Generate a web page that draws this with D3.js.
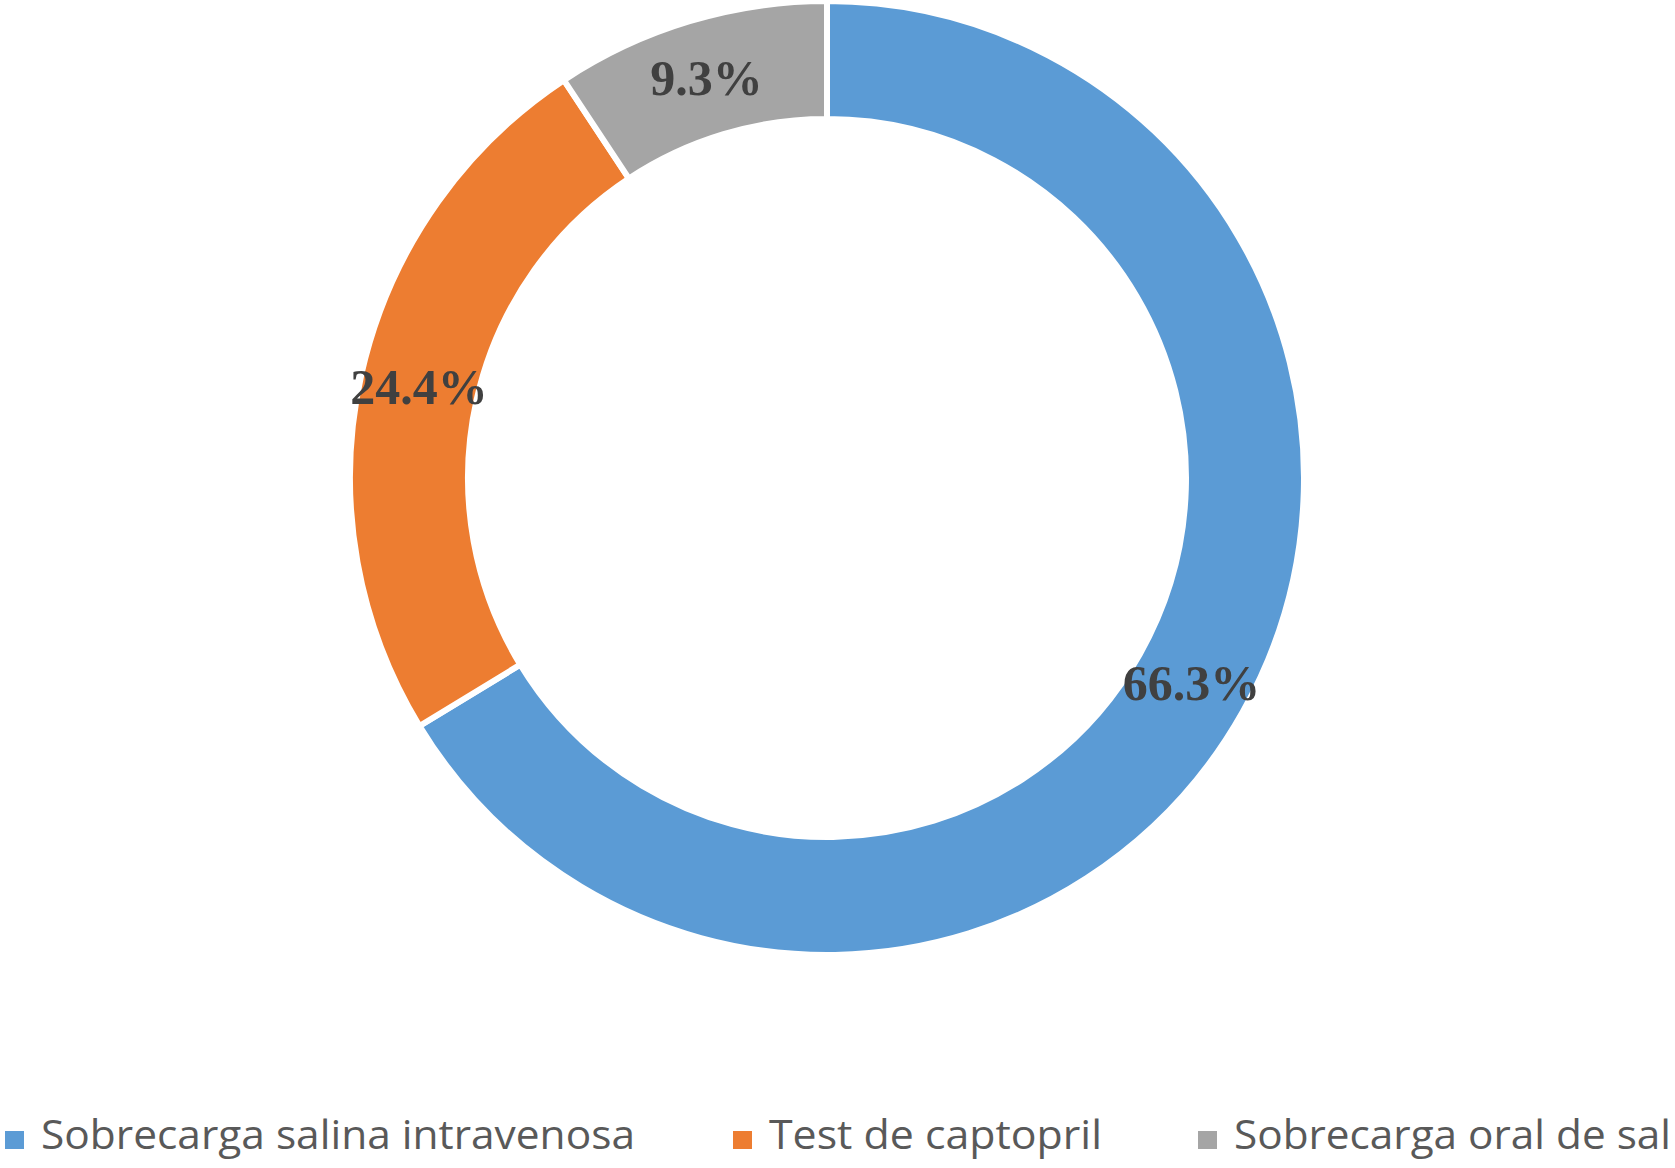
<!DOCTYPE html>
<html>
<head>
<meta charset="utf-8">
<script src="https://cdn.jsdelivr.net/npm/d3@7"></script>
<style>
  body { margin: 0; background: #fff; }
  svg { display: block; }
</style>
</head>
<body>
<script>
// data
var categories = ["Sobrecarga salina intravenosa", "Test de captopril", "Sobrecarga oral de sal"];
var values = [66.3, 24.4, 9.3];
var labels = ["66.3%", "24.4%", "9.3%"];
var colors = ["#5B9BD5", "#ED7D31", "#A5A5A5"];

var width = 1675, height = 1168;
var cx = 827, cy = 478;
// white stroke eats 3px on each side of the ring
var outerR = 477, innerR = 359;

var svg = d3.select("body").append("svg")
    .attr("width", width)
    .attr("height", height);

var pie = d3.pie().sort(null).value(function(d) { return d; });
var arc = d3.arc().innerRadius(innerR).outerRadius(outerR);
var labelArc = d3.arc().innerRadius((innerR + outerR) / 2).outerRadius((innerR + outerR) / 2);

var g = svg.append("g").attr("transform", "translate(" + cx + "," + cy + ")");

var slices = g.selectAll(".slice")
    .data(pie(values))
    .enter()
    .append("g")
    .attr("class", "slice");

slices.append("path")
    .attr("d", arc)
    .attr("fill", function(d, i) { return colors[i]; })
    .attr("stroke", "#fff")
    .attr("stroke-width", 6);

slices.append("text")
    .attr("transform", function(d) { return "translate(" + labelArc.centroid(d) + ")"; })
    .attr("text-anchor", "middle")
    .attr("dy", "0.35em")
    .attr("font-family", "'Liberation Serif', 'Times New Roman', serif")
    .attr("font-weight", "bold")
    .attr("font-size", 50)
    .attr("fill", "#404040")
    .text(function(d, i) { return labels[i]; });

// legend
var legendX = [5, 733, 1198];
var legendW = [594, 333, 437];
var legend = svg.selectAll(".legend")
    .data(categories)
    .enter()
    .append("g")
    .attr("class", "legend")
    .attr("transform", function(d, i) { return "translate(" + legendX[i] + ",1131)"; });

legend.append("rect")
    .attr("width", 19)
    .attr("height", 18)
    .attr("fill", function(d, i) { return colors[i]; });

legend.append("text")
    .attr("x", 36)
    .attr("y", 18)
    .attr("font-family", "'Open Sans', sans-serif")
    .attr("font-size", 41)
    .attr("fill", "#595959")
    .attr("textLength", function(d, i) { return legendW[i]; })
    .attr("lengthAdjust", "spacingAndGlyphs")
    .text(function(d) { return d; });
</script>
</body>
</html>
